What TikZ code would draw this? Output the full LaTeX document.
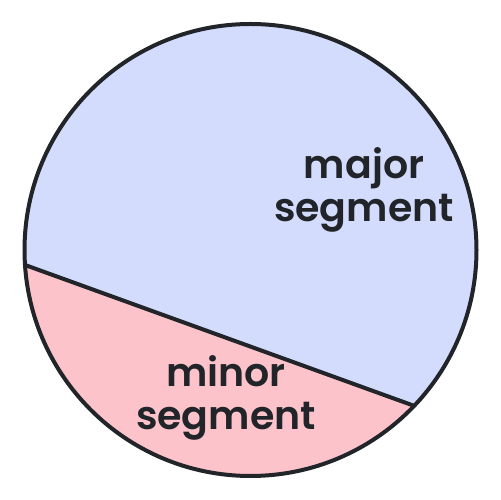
\documentclass[tikz,border=0pt]{standalone}
\usepackage{fontspec}
\setmainfont{Poppins SemiBold}
\definecolor{majorfill}{HTML}{D3DCFD}
\definecolor{minorfill}{HTML}{FCC3CB}
\definecolor{ink}{HTML}{212428}
\begin{document}
\begin{tikzpicture}[x=1pt,y=1pt,
  outline/.style={draw=ink,line width=4pt},
  seglabel/.style={text=ink,align=center,anchor=base,inner sep=0pt,
    font=\fontsize{39.5}{43}\selectfont}]
\useasboundingbox (0,0) rectangle (501,500);
\coordinate (O) at (250.5,250);
\coordinate (L) at ([shift={(183.8:226)}]O);
\coordinate (R) at ([shift={(-43.6:226)}]O);
\fill[minorfill] (L) arc[start angle=183.8,end angle=316.4,radius=226] -- cycle;
\fill[majorfill] (R) arc[start angle=-43.6,end angle=183.8,radius=226] -- cycle;
\draw[outline] (O) circle[radius=226];
\draw[outline] (L) -- (R);
\node[seglabel] (maj) at (364,278) {major\\segment};
\node[seglabel] (min) at (226,70) {minor\\segment};
\end{tikzpicture}
\end{document}
